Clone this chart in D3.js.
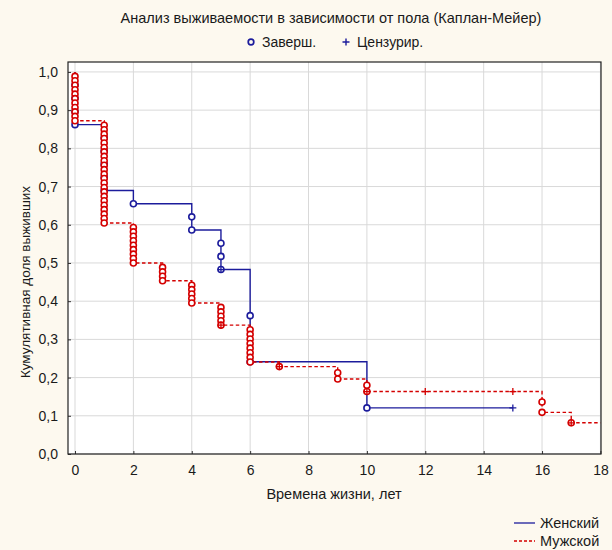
<!DOCTYPE html>
<html><head><meta charset="utf-8">
<script src="https://cdn.jsdelivr.net/npm/d3@7"></script>
<style>
html,body{margin:0;padding:0;background:#fdf9ef;}
svg{display:block;font-family:"Liberation Sans",Arial,sans-serif;}
</style></head>
<body>
<script>
// ---- data ----
const titleText = "Анализ выживаемости в зависимости от пола (Каплан-Мейер)";
const markerLabels = ["Заверш.", "Цензурир."];
const groupNames = ["Женский", "Мужской"];
const xTicks = [0,2,4,6,8,10,12,14,16,18];
const yTicks = [0,0.1,0.2,0.3,0.4,0.5,0.6,0.7,0.8,0.9,1.0];
const xLabel = "Времена жизни, лет";
const yLabel = "Кумулятивная доля выживших";

// Женский: event times, deaths (completed), censored
const femaleTimes    = [0,1,2,4,5,6,10,15];
const femaleDeaths   = [4,5,1,2,3,2,1,0];
const femaleCensored = [0,0,0,0,10,0,0,1];
const femaleFollowUp = 15;
// Мужской
const maleTimes    = [0,1,2,3,4,5,6,7,9,10,12,15,16,17];
const maleDeaths   = [11,23,9,4,5,5,8,1,2,2,0,0,2,1];
const maleCensored = [0,0,0,0,0,1,0,5,0,1,2,1,0,3];
const maleFollowUp = 18;

// ---- Kaplan-Meier ----
function km(times, deaths, cens){
  let r = d3.sum(deaths) + d3.sum(cens), S = 1;
  const steps = [], circles = [], pluses = [];
  times.forEach((t,i)=>{
    if (deaths[i] > 0){
      for (let k=0;k<deaths[i];k++){ S *= (r-1)/r; r--; circles.push([t,S]); }
      steps.push([t,S]);
    }
    if (cens[i] > 0){ pluses.push([t,S]); r -= cens[i]; }
  });
  return {steps, circles, pluses, last:S};
}
const fem = km(femaleTimes, femaleDeaths, femaleCensored);
const mal = km(maleTimes, maleDeaths, maleCensored);

// ---- layout ----
const W = 612, H = 550;
const L = 68, R = 601, T = 62, B = 454;
const blue = "#1c1c9c", red = "#d40000";
const FS = 14, TXT = "#1a1a1a";

const svg = d3.select("body").append("svg").attr("width",W).attr("height",H);
svg.append("rect").attr("width",W).attr("height",H).attr("fill","#fdf9ef");

const x = d3.scaleLinear().domain([-0.24, 18.02]).range([L, R]);
const y = d3.scaleLinear().domain([0, 1.026]).range([B, T]);

svg.append("rect").attr("x",L).attr("y",T).attr("width",R-L).attr("height",B-T).attr("fill","#fff");

// grid
svg.append("g").selectAll("line").data(xTicks).join("line")
  .attr("x1",d=>x(d)).attr("x2",d=>x(d)).attr("y1",T).attr("y2",B)
  .attr("stroke","#d9d9d9").attr("stroke-width",1);
svg.append("g").selectAll("line").data(yTicks).join("line")
  .attr("x1",L).attr("x2",R).attr("y1",d=>y(d)).attr("y2",d=>y(d))
  .attr("stroke","#d9d9d9").attr("stroke-width",1);

// axes
const fmt = d => d3.format(".1f")(d).replace(".", ",");
const gx = svg.append("g").attr("transform",`translate(0,${B})`)
  .call(d3.axisBottom(x).tickValues(xTicks).tickSize(-3).tickPadding(11).tickSizeOuter(0));
const gy = svg.append("g").attr("transform",`translate(${L},0)`)
  .call(d3.axisLeft(y).tickValues(yTicks).tickFormat(fmt).tickSize(-3).tickPadding(10).tickSizeOuter(0));
[gx,gy].forEach(g=>{
  g.select(".domain").remove();
  g.selectAll("line").attr("stroke","#333");
  g.selectAll("text").attr("font-size",FS).attr("fill",TXT).attr("font-family","Liberation Sans, Arial, sans-serif");
});

// curves
svg.append("clipPath").attr("id","pc").append("rect")
  .attr("x",L).attr("y",T-6).attr("width",R-L+1).attr("height",B-T+6);

function stepPath(res, endT){
  let p = `M${x(0)},${y(1)}`;
  res.steps.forEach(([t,S])=>{ p += `H${x(t)}V${y(S)}`; });
  p += `H${x(endT)}`;
  return p;
}
const plot = svg.append("g").attr("clip-path","url(#pc)");

function drawGroup(res, endT, color, dash){
  plot.append("path").attr("d", stepPath(res,endT)).attr("fill","none")
    .attr("stroke",color).attr("stroke-width",1.4).attr("stroke-dasharray",dash);
  plot.append("g").selectAll("circle").data(res.circles).join("circle")
    .attr("cx",d=>x(d[0])).attr("cy",d=>y(d[1])).attr("r",3)
    .attr("fill","#fff").attr("stroke",color).attr("stroke-width",1.6);
  plot.append("g").selectAll("path").data(res.pluses).join("path")
    .attr("d",d=>`M${x(d[0])-3.5},${y(d[1])}h7M${x(d[0])},${y(d[1])-3.5}v7`)
    .attr("stroke",color).attr("stroke-width",1.3).attr("fill","none");
}
drawGroup(fem, femaleFollowUp, blue, null);
drawGroup(mal, maleFollowUp, red, "3.5,2.5");

// frame
svg.append("rect").attr("x",L).attr("y",T).attr("width",R-L).attr("height",B-T)
  .attr("fill","none").attr("stroke","#222").attr("stroke-width",1.2);

// titles
svg.append("text").attr("x",331).attr("y",23).attr("text-anchor","middle")
  .attr("font-size",14.5).attr("fill",TXT).text(titleText);
// marker legend
const ml = svg.append("g").attr("font-size",FS).attr("fill",TXT);
ml.append("circle").attr("cx",251).attr("cy",42).attr("r",2.8).attr("fill","none").attr("stroke",blue).attr("stroke-width",1.7);
ml.append("text").attr("x",262).attr("y",47).text(markerLabels[0]);
ml.append("path").attr("d","M342.5,42h7M346,38.5v7").attr("stroke",blue).attr("stroke-width",1.4);
ml.append("text").attr("x",357).attr("y",47).text(markerLabels[1]);

// axis titles
svg.append("text").attr("x",334).attr("y",499).attr("text-anchor","middle")
  .attr("font-size",FS+0.5).attr("fill",TXT).text(xLabel);
svg.append("text").attr("transform","translate(30,282) rotate(-90)").attr("text-anchor","middle")
  .attr("font-size",13.5).attr("fill",TXT).text(yLabel);

// series legend
const sl = svg.append("g").attr("font-size",FS+0.5).attr("fill",TXT);
sl.append("line").attr("x1",514).attr("x2",535).attr("y1",523).attr("y2",523).attr("stroke",blue).attr("stroke-width",1.3);
sl.append("text").attr("x",540).attr("y",528).text(groupNames[0]);
sl.append("line").attr("x1",514).attr("x2",535).attr("y1",541).attr("y2",541).attr("stroke",red).attr("stroke-width",1.3).attr("stroke-dasharray","3,2");
sl.append("text").attr("x",540).attr("y",546).text(groupNames[1]);
</script>
</body></html>
